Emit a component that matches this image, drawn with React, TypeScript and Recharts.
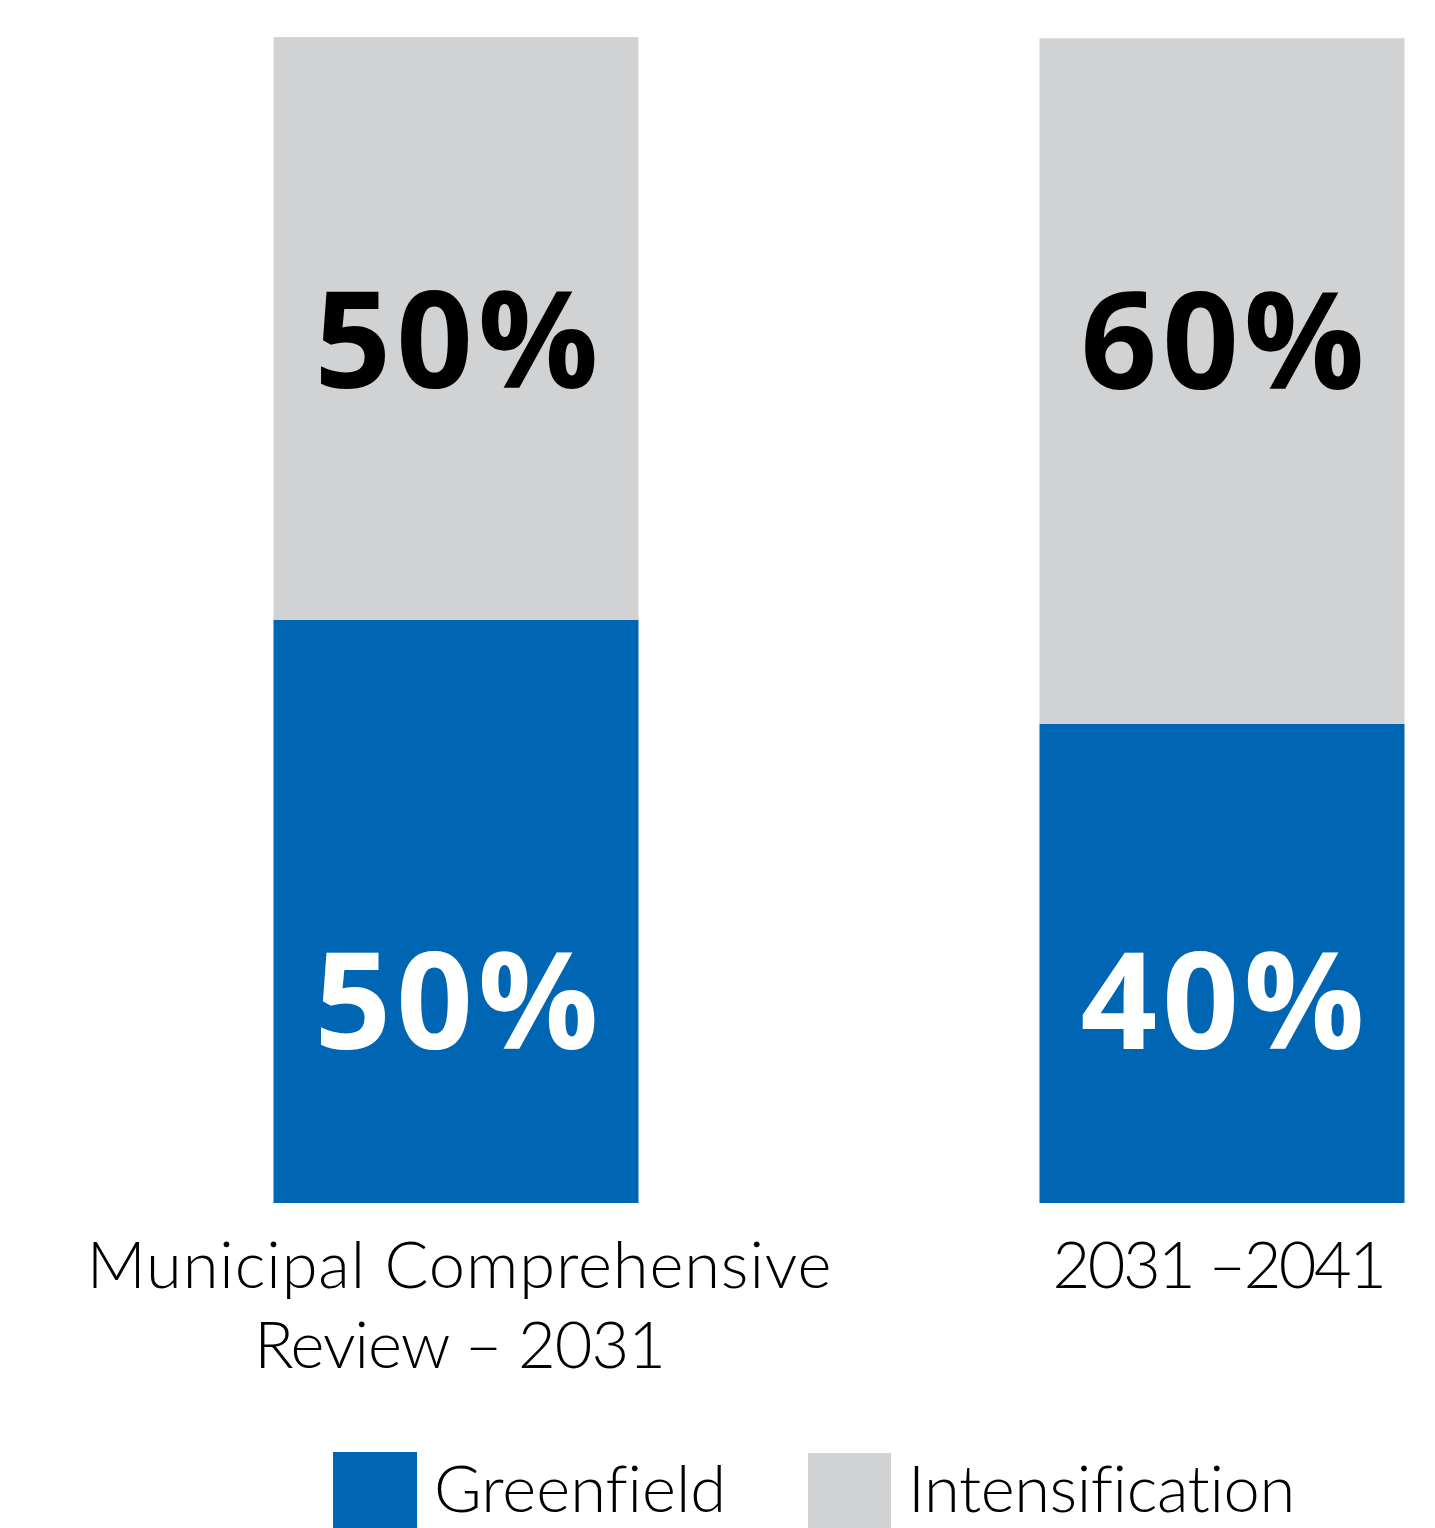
import React from "react";
import { BarChart, Bar, XAxis, YAxis, Legend, LabelList } from "recharts";

// ---- data ----
const categories = ["Municipal Comprehensive Review – 2031", "2031 –2041"];
const categoryLines = [["Municipal Comprehensive", "Review – 2031"], ["2031 –2041"]];
const greenfield = [50, 41.1];
const intensification = [50, 58.8];
const greenfieldLabels = ["50%", "40%"];
const intensificationLabels = ["50%", "60%"];
const seriesNames = ["Greenfield", "Intensification"];

const BLUE = "#0066B3";
const GRAY = "#D1D2D4";
const LIGHT_FONT = "Lato, 'Noto Sans', sans-serif";
const BOLD_FONT = "'Open Sans', 'Noto Sans', sans-serif";
const NO_LIG = { fontVariantLigatures: "none" as const, fontFeatureSettings: '"liga" 0' };

const data = categories.map((name, i) => ({
  pos: i,
  name,
  greenfield: greenfield[i],
  intensification: intensification[i],
  gLabel: greenfieldLabels[i],
  iLabel: intensificationLabels[i],
}));

const lineSpacing = [[0.9, -1], [-2.5]];
const lineShift = [4, -3];

const CategoryTick = (props: any) => {
  const { x, y, payload } = props;
  const idx = Math.round(payload.value);
  const lines = categoryLines[idx] || [];
  const cx = x + (lineShift[idx] || 0);
  return (
    <text
      x={cx}
      y={y}
      textAnchor="middle"
      fontFamily={LIGHT_FONT}
      fontWeight={300}
      fontSize={65}
      fill="#000"
      style={NO_LIG}
    >
      {lines.map((l, i) => (
        <tspan
          key={i}
          x={cx}
          y={y + 85 + i * 80}
          letterSpacing={(lineSpacing[idx] || [])[i] || 0}
        >
          {l}
        </tspan>
      ))}
    </text>
  );
};

const GreenLabel = (props: any) => {
  const { x, y, width, height, value } = props;
  return (
    <text
      x={x + width / 2 + 3}
      y={y + height - 154}
      textAnchor="middle"
      fontFamily={BOLD_FONT}
      fontWeight={700}
      fontSize={134}
      letterSpacing={5}
      fill="#fff"
    >
      {value}
    </text>
  );
};

const IntLabel = (props: any) => {
  const { x, y, width, value } = props;
  return (
    <text
      x={x + width / 2 + 3}
      y={y + 351}
      textAnchor="middle"
      fontFamily={BOLD_FONT}
      fontWeight={700}
      fontSize={134}
      letterSpacing={5}
      fill="#000"
    >
      {value}
    </text>
  );
};

const LegendContent = () => (
  <svg width={1419} height={76} style={{ display: "block", overflow: "visible" }}>
    <rect x={325} y={0} width={84} height={76} fill={BLUE} />
    <text
      x={426}
      y={60}
      fontFamily={LIGHT_FONT}
      fontWeight={300}
      fontSize={65}
      fill="#000"
      style={NO_LIG}
    >
      {seriesNames[0]}
    </text>
    <rect x={800} y={1} width={83} height={75} fill={GRAY} />
    <text
      x={900}
      y={60}
      fontFamily={LIGHT_FONT}
      fontWeight={300}
      fontSize={65}
      letterSpacing={-0.4}
      fill="#000"
      style={NO_LIG}
    >
      {seriesNames[1]}
    </text>
  </svg>
);

export default function App() {
  return (
    <div style={{ width: 1419, height: 1520 }}>
      <BarChart
        width={1419}
        height={1520}
        data={data}
        margin={{ top: 29, right: 14, bottom: 0, left: 64.5 }}
      >
        <XAxis
          type="number"
          dataKey="pos"
          domain={[-0.5, 1.25]}
          allowDataOverflow
          ticks={[0, 1]}
          interval={0}
          axisLine={false}
          tickLine={false}
          tickSize={0}
          tickMargin={0}
          height={249}
          tick={<CategoryTick />}
        />
        <YAxis hide domain={[0, 100]} />
        <Legend
          verticalAlign="bottom"
          height={76}
          content={<LegendContent />}
          wrapperStyle={{ left: 0, width: 1419, height: 76, lineHeight: 0 }}
        />
        <Bar dataKey="greenfield" stackId="a" fill={BLUE} barSize={365} isAnimationActive={false}>
          <LabelList dataKey="gLabel" content={<GreenLabel />} />
        </Bar>
        <Bar dataKey="intensification" stackId="a" fill={GRAY} barSize={365} isAnimationActive={false}>
          <LabelList dataKey="iLabel" content={<IntLabel />} />
        </Bar>
      </BarChart>
    </div>
  );
}
